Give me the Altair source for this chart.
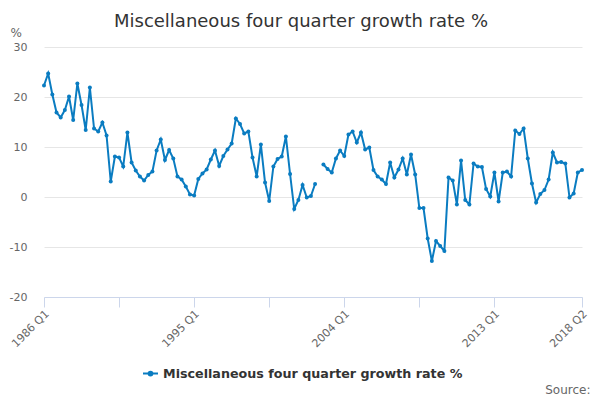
import altair as alt
import pandas as pd

# ---- data ----
start_year = 1986
values = [
    22.3, 24.7, 20.5, 16.9, 15.9, 17.4, 20.1, 15.4, 22.7, 18.4,
    13.4, 21.9, 13.7, 13.1, 14.9, 12.3, 3.1, 8.1, 7.9, 6.1,
    12.9, 6.9, 5.3, 4.1, 3.3, 4.4, 5.1, 9.3, 11.5, 7.4,
    9.4, 7.7, 4.1, 3.5, 2.1, 0.5, 0.3, 3.6, 4.7, 5.5,
    7.5, 9.3, 6.2, 8.2, 9.5, 10.7, 15.7, 14.6, 12.7, 13.1,
    7.9, 4.1, 10.5, 2.9, -0.8, 6.1, 7.6, 8.1, 12.1, 4.6,
    -2.4, -0.6, 2.4, -0.1, 0.2, 2.6, None, 6.5, 5.6, 4.9,
    7.7, 9.3, 8.2, 12.5, 13.1, 10.9, 12.9, 9.5, 9.9, 5.4,
    4.1, 3.5, 2.6, 6.9, 3.9, 5.5, 7.7, 4.5, 8.5, 4.5,
    -2.2, -2.2, -8.3, -12.8, -8.8, -9.8, -10.8, 3.9, 3.3, -1.5,
    7.3, -0.6, -1.5, 6.7, 6.1, 6.0, 1.6, 0.1, 4.9, -0.9,
    4.9, 5.1, 4.1, 13.3, 12.6, 13.7, 7.7, 2.7, -1.1, 0.6,
    1.4, 3.5, 8.9, 6.9, 7.0, 6.7, -0.1, 0.7, 4.9, 5.4,
]
quarters = [f"{start_year + i // 4} Q{i % 4 + 1}" for i in range(len(values))]
series_name = "Miscellaneous four quarter growth rate %"
tick_positions = list(range(0, 118, 9)) + [len(values) - 1]
label_positions = [0, 36, 72, 108, len(values) - 1]
y_ticks = [-20, -10, 0, 10, 20, 30]

BLUE = "#0a7cc1"

rows = []
seg = 0
for i, (q, v) in enumerate(zip(quarters, values)):
    if v is None:
        seg += 1
        continue
    rows.append({"idx": i, "quarter": q, "value": v, "seg": seg, "series": series_name})
df = pd.DataFrame(rows)

label_expr = " : ".join(
    f"datum.value == {p} ? '{quarters[p]}'" for p in label_positions
) + " : ''"

x_enc = alt.X(
    "idx:Q",
    scale=alt.Scale(domain=[0, len(values) - 1], nice=False, zero=False),
    axis=alt.Axis(
        values=tick_positions,
        labelExpr=label_expr,
        labelAngle=-45,
        labelAlign="right",
        labelBaseline="middle",
        labelPadding=5,
        labelOffset=3,
        labelFontSize=11,
        labelColor="#666666",
        labelFont="DejaVu Sans",
        labelOverlap=False,
        labelFlush=False,
        tickSize=10,
        tickColor="#ccd6eb",
        domainColor="#ccd6eb",
        grid=False,
        title="Source:",
        titleX=546,
        titleY=96,
        titleAlign="right",
        titleBaseline="alphabetic",
        titleFontSize=12,
        titleFontWeight="normal",
        titleColor="#666666",
        titleFont="DejaVu Sans",
    ),
)

y_enc = alt.Y(
    "value:Q",
    scale=alt.Scale(domain=[-20, 30], nice=False),
    axis=alt.Axis(
        values=y_ticks,
        labelExpr="'' + datum.value",
        domain=False,
        ticks=False,
        labelPadding=17,
        labelFontSize=11,
        labelColor="#666666",
        labelFont="DejaVu Sans",
        gridColor="#e6e6e6",
        title="%",
        titleAngle=0,
        titleX=-34,
        titleY=-11,
        titleAlign="left",
        titleBaseline="alphabetic",
        titleFontSize=12,
        titleFontWeight="normal",
        titleColor="#666666",
        titleFont="DejaVu Sans",
    ),
)

line = alt.Chart(df).mark_line(strokeWidth=2).encode(
    x=x_enc,
    y=y_enc,
    detail="seg:N",
    color=alt.Color(
        "series:N",
        scale=alt.Scale(domain=[series_name], range=[BLUE]),
        legend=alt.Legend(
            title=None,
            orient="none",
            legendX=98,
            legendY=318,
            symbolType="M -1 0 L 1 0 M -0.25 0 a 0.25 0.25 0 1 0 0.5 0 a 0.25 0.25 0 1 0 -0.5 0",
            symbolSize=225,
            symbolStrokeWidth=2,
            symbolFillColor=BLUE,
            symbolStrokeColor=BLUE,
            labelFontSize=12.7,
            labelFontWeight="bold",
            labelColor="#333333",
            labelFont="DejaVu Sans",
            labelLimit=0,
        ),
    ),
)

points = alt.Chart(df).mark_circle(size=16, color=BLUE, opacity=1).encode(
    x="idx:Q",
    y="value:Q",
)

chart = (
    alt.layer(line, points)
    .properties(
        width=538,
        height=250,
        autosize=alt.AutoSizeParams(type="none"),
        padding={"left": 36, "top": 39, "right": 10, "bottom": 100},
        title=alt.TitleParams(
            text="Miscellaneous four quarter growth rate %",
            fontSize=18,
            fontWeight="normal",
            color="#333333",
            font="DejaVu Sans",
            anchor="middle",
            dx=-12,
            dy=17,
            offset=12,
        ),
    )
    .configure_view(stroke=None)
)

chart.save("out.html", embed_options={"renderer": "svg", "actions": False})
